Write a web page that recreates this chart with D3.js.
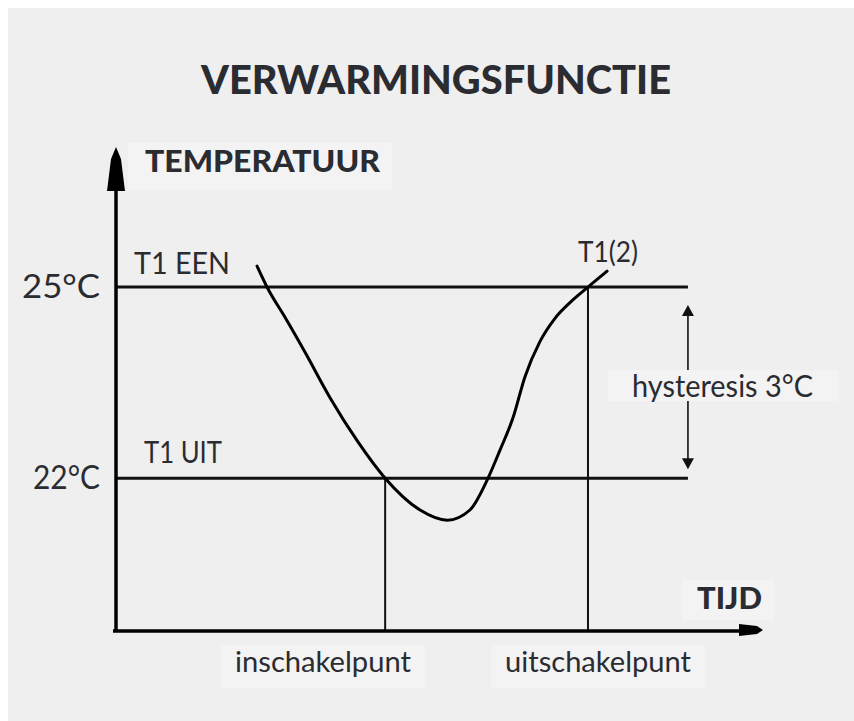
<!DOCTYPE html>
<html>
<head>
<meta charset="utf-8">
<script src="https://cdn.jsdelivr.net/npm/d3@7/dist/d3.min.js"></script>
<style>
  html, body { margin: 0; padding: 0; background: #ffffff; }
  svg { display: block; }
</style>
</head>
<body>
<svg id="chart" width="854" height="721"></svg>
<script>
// Heating function: temperature over time with switch-on/off thresholds
const title = "VERWARMINGSFUNCTIE";
const yAxisTitle = "TEMPERATUUR";
const xAxisTitle = "TIJD";

// Threshold levels (°C)
const levelTemps = [25, 22];
const levelNames = ["T1 EEN", "T1 UIT"];
const levelTicks = ["25°C", "22°C"];

// Switch points on the time axis (arbitrary time units)
const switchTimes = [41.6, 72.95];
const switchTemps = [22, 25];
const switchNames = ["inschakelpunt", "uitschakelpunt"];

// Temperature curve
const curveTime = [21.8, 23.5, 26.1, 29.2, 33.1, 37.4, 41.6, 47.0, 51.2, 54.7, 57.5, 59.35, 61.4, 63.2, 65.5, 67.85, 70.2, 72.95, 75.9];
const curveTemp = [25.33, 24.97, 24.53, 23.98, 23.26, 22.57, 22.0, 21.5, 21.34, 21.5, 22.0, 22.44, 22.96, 23.59, 24.14, 24.51, 24.76, 25.0, 25.25];
const curveLabel = "T1(2)";

const levelEndTime = 88.4;
const hysteresisLabel = "hysteresis 3°C";

const timeDomain = [0, 100];
const tempDomain = [19.6, 27.2];

const svg = d3.select("#chart");
const ink = "#2a2c31";
const labelFont = "Lato, 'Open Sans', sans-serif";

// Panel
svg.append("rect").attr("x", 8).attr("y", 8).attr("width", 846).attr("height", 713).attr("fill", "#efefef");

const x = d3.scaleLinear().domain(timeDomain).range([116, 763]);
const y = d3.scaleLinear().domain(tempDomain).range([631, 147]);

// Title
svg.append("text")
  .attr("x", 436).attr("y", 94)
  .attr("text-anchor", "middle")
  .attr("font-family", labelFont).attr("font-weight", 900).attr("font-size", 40)
  .attr("textLength", 470).attr("lengthAdjust", "spacingAndGlyphs")
  .attr("fill", ink).text(title);

// Soft label backdrops
const backdrop = "#f3f3f3";
svg.append("rect").attr("x", 128).attr("y", 143).attr("width", 264).attr("height", 47).attr("fill", backdrop);
svg.append("rect").attr("x", 682).attr("y", 580).attr("width", 92).attr("height", 40).attr("fill", backdrop);

// Axis titles
svg.append("text")
  .attr("x", 145).attr("y", 172)
  .attr("font-family", labelFont).attr("font-weight", 900).attr("font-size", 30)
  .attr("textLength", 235).attr("lengthAdjust", "spacingAndGlyphs")
  .attr("fill", ink).text(yAxisTitle);
svg.append("text")
  .attr("x", 697).attr("y", 609)
  .attr("font-family", labelFont).attr("font-weight", 900).attr("font-size", 30)
  .attr("textLength", 65).attr("lengthAdjust", "spacingAndGlyphs")
  .attr("fill", ink).text(xAxisTitle);

// Threshold lines
levelTemps.forEach((t, i) => {
  svg.append("line")
    .attr("x1", x(0)).attr("x2", x(levelEndTime))
    .attr("y1", y(t)).attr("y2", y(t))
    .attr("stroke", "#111").attr("stroke-width", 3);
  svg.append("text")
    .attr("x", x(0) - 16).attr("y", y(t) + 11)
    .attr("text-anchor", "end")
    .attr("font-family", labelFont).attr("font-size", 33)
    .attr("textLength", i === 0 ? 78 : 67).attr("lengthAdjust", "spacingAndGlyphs")
    .attr("fill", ink).text(levelTicks[i]);
});
svg.append("text")
  .attr("x", 134).attr("y", y(levelTemps[0]) - 13)
  .attr("font-family", labelFont).attr("font-size", 30)
  .attr("textLength", 96).attr("lengthAdjust", "spacingAndGlyphs")
  .attr("fill", ink).text(levelNames[0]);
svg.append("text")
  .attr("x", 144).attr("y", y(levelTemps[1]) - 15)
  .attr("font-family", labelFont).attr("font-size", 30)
  .attr("textLength", 78).attr("lengthAdjust", "spacingAndGlyphs")
  .attr("fill", ink).text(levelNames[1]);

// Switch point drop lines and labels
switchTimes.forEach((tm, i) => {
  svg.append("line")
    .attr("x1", x(tm)).attr("x2", x(tm))
    .attr("y1", y(switchTemps[i])).attr("y2", y(tempDomain[0]))
    .attr("stroke", "#111").attr("stroke-width", 2);
});
const switchLabelLeft = [235, 505];
const switchLabelWidth = [176, 186];
switchNames.forEach((name, i) => {
  svg.append("rect")
    .attr("x", switchLabelLeft[i] - 14).attr("y", 645)
    .attr("width", switchLabelWidth[i] + 28).attr("height", 43).attr("fill", backdrop);
  svg.append("text")
    .attr("x", switchLabelLeft[i]).attr("y", 672)
    .attr("font-family", labelFont).attr("font-size", 29)
    .attr("textLength", switchLabelWidth[i]).attr("lengthAdjust", "spacingAndGlyphs")
    .attr("fill", ink).text(name);
});

// Axes
svg.append("line")
  .attr("x1", x(0)).attr("x2", x(0))
  .attr("y1", y(tempDomain[0]) + 1).attr("y2", y(tempDomain[1]) + 30)
  .attr("stroke", "#000").attr("stroke-width", 3.5);
svg.append("line")
  .attr("x1", x(0) - 3).attr("x2", x(timeDomain[1]) - 15)
  .attr("y1", y(tempDomain[0])).attr("y2", y(tempDomain[0]))
  .attr("stroke", "#000").attr("stroke-width", 3.5);

// Arrowheads
const yTip = [x(0), y(tempDomain[1])];
svg.append("path")
  .attr("d", `M${yTip[0]},${yTip[1]} L${yTip[0] + 5},${yTip[1] + 12} L${yTip[0] + 9},${yTip[1] + 44} L${yTip[0] - 9},${yTip[1] + 44} L${yTip[0] - 5},${yTip[1] + 12} Z`)
  .attr("fill", "#000");
const xTip = [x(timeDomain[1]), y(tempDomain[0]) - 1];
svg.append("path")
  .attr("d", `M${xTip[0]},${xTip[1]} L${xTip[0] - 6},${xTip[1] - 4} L${xTip[0] - 24},${xTip[1] - 6} L${xTip[0] - 24},${xTip[1] + 6} L${xTip[0] - 6},${xTip[1] + 4} Z`)
  .attr("fill", "#000");

// Temperature curve
const curvePoints = curveTime.map((t, i) => [t, curveTemp[i]]);
svg.append("path")
  .datum(curvePoints)
  .attr("d", d3.line().x(d => x(d[0])).y(d => y(d[1])).curve(d3.curveMonotoneX))
  .attr("fill", "none").attr("stroke", "#000").attr("stroke-width", 3).attr("stroke-linecap", "round");
const curveEnd = curvePoints[curvePoints.length - 1];
svg.append("text")
  .attr("x", x(curveEnd[0]) + 1).attr("y", y(curveEnd[1]) - 9)
  .attr("text-anchor", "middle")
  .attr("font-family", labelFont).attr("font-size", 29)
  .attr("textLength", 60).attr("lengthAdjust", "spacingAndGlyphs")
  .attr("fill", ink).text(curveLabel);

// Hysteresis span arrow
const hx = x(levelEndTime);
const hTop = y(levelTemps[0]) + 18;
const hBot = y(levelTemps[1]) - 9;
svg.append("line")
  .attr("x1", hx).attr("x2", hx).attr("y1", hTop + 8).attr("y2", hBot - 8)
  .attr("stroke", "#111").attr("stroke-width", 1.6);
svg.append("path").attr("d", `M${hx},${hTop} L${hx + 6},${hTop + 11} L${hx - 6},${hTop + 11} Z`).attr("fill", "#111");
svg.append("path").attr("d", `M${hx},${hBot} L${hx + 6},${hBot - 11} L${hx - 6},${hBot - 11} Z`).attr("fill", "#111");
svg.append("rect").attr("x", 608).attr("y", 370).attr("width", 230).attr("height", 31).attr("fill", backdrop);
svg.append("text")
  .attr("x", 632).attr("y", 397)
  .attr("font-family", labelFont).attr("font-size", 30)
  .attr("textLength", 181).attr("lengthAdjust", "spacingAndGlyphs")
  .attr("fill", ink).text(hysteresisLabel);
</script>
</body>
</html>
